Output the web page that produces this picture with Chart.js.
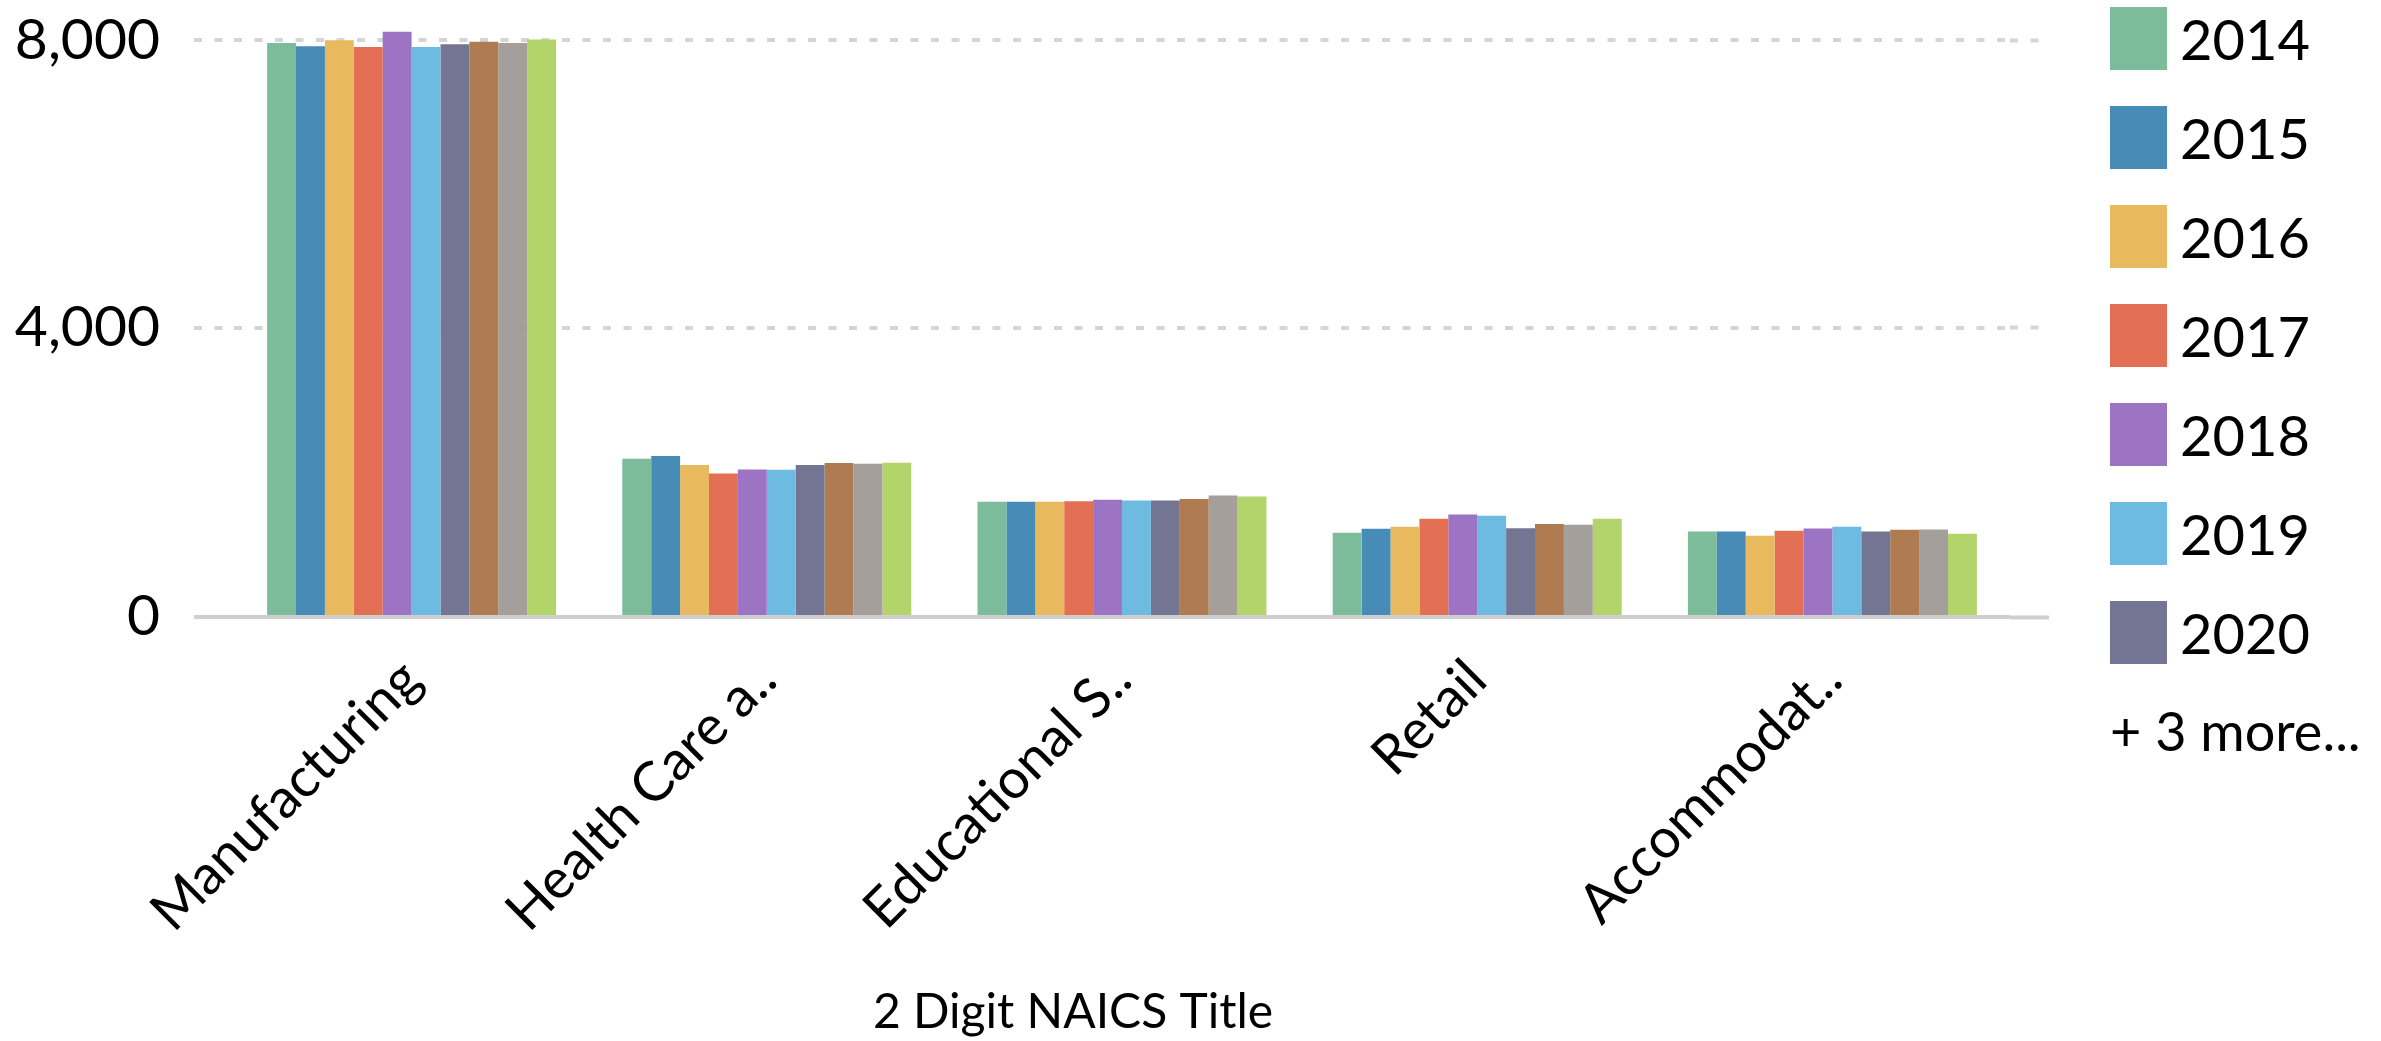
<!DOCTYPE html>
<html lang="en">
<head>
    <meta charset="UTF-8">
    <title>2 Digit NAICS Title by year</title>
    <script src="https://cdn.jsdelivr.net/npm/chart.js"></script>
    <style>
        body { margin: 0; background: #fff; overflow: hidden; }
        #wrap { position: relative; width: 2381px; height: 1041px; }
        #chartBox { position: absolute; left: 0; top: 0; width: 2146px; height: 1041px; }
        #legend { position: absolute; left: 2110px; top: 7px; font-family: Lato, sans-serif; color: #000; }
        .item { display: flex; align-items: center; height: 99px; }
        .item .sw { width: 57px; height: 63px; margin-top: -36px; }
        .item span { font-size: 56px; line-height: 63px; margin-left: 13px; margin-top: -36px; }
        .more { font-size: 54px; line-height: 63px; margin-top: -1px; }
    </style>
</head>
<body>
    <div id="wrap">
        <div id="chartBox"><canvas id="chart"></canvas></div>
        <div id="legend"></div>
    </div>
    <script>
        // categories (labels are cut short like in the source view)
        const categories = ["Manufacturing", "Health Care a..", "Educational S..", "Retail", "Accommodat.."];
        const years = ["2014", "2015", "2016", "2017", "2018", "2019", "2020", "2021", "2022", "2023"];
        const colors = ["#7dbc9a", "#478cb7", "#e8b95e", "#e36f55", "#9d73c4", "#6dbbe0", "#747592", "#ae7c50", "#a49f9a", "#b2d46a"];

        // one array per year, same order as categories
        const v2014 = [7962, 2176, 1576, 1144, 1162];
        const v2015 = [7916, 2213, 1576, 1200, 1162];
        const v2016 = [7999, 2087, 1576, 1227, 1102];
        const v2017 = [7906, 1971, 1585, 1339, 1172];
        const v2018 = [8120, 2027, 1604, 1400, 1204];
        const v2019 = [7906, 2022, 1595, 1381, 1227];
        const v2020 = [7944, 2087, 1595, 1209, 1162];
        const v2021 = [7981, 2115, 1613, 1265, 1186];
        const v2022 = [7962, 2106, 1665, 1255, 1190];
        const v2023 = [8010, 2120, 1651, 1339, 1130];
        const series = [v2014, v2015, v2016, v2017, v2018, v2019, v2020, v2021, v2022, v2023];

        // y ticks: the lowest one sits on the axis line and reads "0"
        const yMin = -28;
        const yMax = 8561;
        const yTicks = [yMin, 4000, 8000];
        const shownInLegend = 7;

        Chart.defaults.font.family = "Lato";
        Chart.defaults.color = "#000";

        const isBase = (ctx) => ctx.tick && ctx.tick.value < 0;
        const lineColor = (ctx) => isBase(ctx) ? "#cfcfcf" : "#d5d5d5";
        const lineDash = (ctx) => isBase(ctx) ? [] : [8, 12.5];

        const datasets = years.map((y, i) => ({
            label: y,
            data: series[i],
            backgroundColor: colors[i],
            borderWidth: 0,
            barPercentage: 1.0,
            categoryPercentage: 0.8136
        }));

        new Chart(document.getElementById("chart"), {
            type: "bar",
            data: { labels: categories, datasets },
            options: {
                responsive: true,
                maintainAspectRatio: false,
                animation: false,
                layout: { padding: 0 },
                plugins: {
                    legend: { display: false },
                    tooltip: { enabled: false },
                    title: {
                        display: true,
                        position: "bottom",
                        text: "2 Digit NAICS Title",
                        color: "#000",
                        font: { size: 48, weight: "normal", lineHeight: 1.2 },
                        padding: 0
                    }
                },
                scales: {
                    x: {
                        offset: true,
                        grid: { display: false, drawTicks: false },
                        border: { display: false },
                        ticks: {
                            autoSkip: false,
                            minRotation: 45,
                            maxRotation: 45,
                            padding: 30,
                            font: { size: 55 }
                        },
                        afterFit: (s) => { s.height = 366.4; s.paddingLeft = 0; s.paddingRight = 0; }
                    },
                    y: {
                        min: yMin,
                        max: yMax,
                        afterBuildTicks: (s) => { s.ticks = yTicks.map(v => ({ value: v })); },
                        afterFit: (s) => { s.width = 234; s.paddingTop = 0; s.paddingBottom = 0; },
                        border: { display: false, dash: lineDash },
                        grid: {
                            color: lineColor,
                            lineWidth: 4,
                            tickLength: 40,
                            tickWidth: 4,
                            tickColor: lineColor,
                            tickBorderDash: lineDash
                        },
                        ticks: {
                            padding: 34,
                            font: { size: 57 },
                            callback: (v) => v < 0 ? "0" : v.toLocaleString("en-US")
                        }
                    },
                    y2: {
                        position: "right",
                        min: yMin,
                        max: yMax,
                        afterBuildTicks: (s) => { s.ticks = yTicks.map(v => ({ value: v })); },
                        afterFit: (s) => { s.width = 136; s.paddingTop = 0; s.paddingBottom = 0; },
                        border: { display: false },
                        ticks: { display: false },
                        grid: {
                            drawOnChartArea: false,
                            tickLength: 39,
                            tickWidth: 4,
                            tickColor: lineColor,
                            tickBorderDash: lineDash
                        }
                    }
                }
            }
        });

        // legend shows the first 7 years, then a count of the rest
        const legend = document.getElementById("legend");
        years.slice(0, shownInLegend).forEach((y, i) => {
            const row = document.createElement("div");
            row.className = "item";
            row.innerHTML = `<div class="sw" style="background:${colors[i]}"></div><span>${y}</span>`;
            legend.appendChild(row);
        });
        const more = document.createElement("div");
        more.className = "more";
        more.textContent = `+ ${years.length - shownInLegend} more...`;
        legend.appendChild(more);
    </script>
</body>
</html>
